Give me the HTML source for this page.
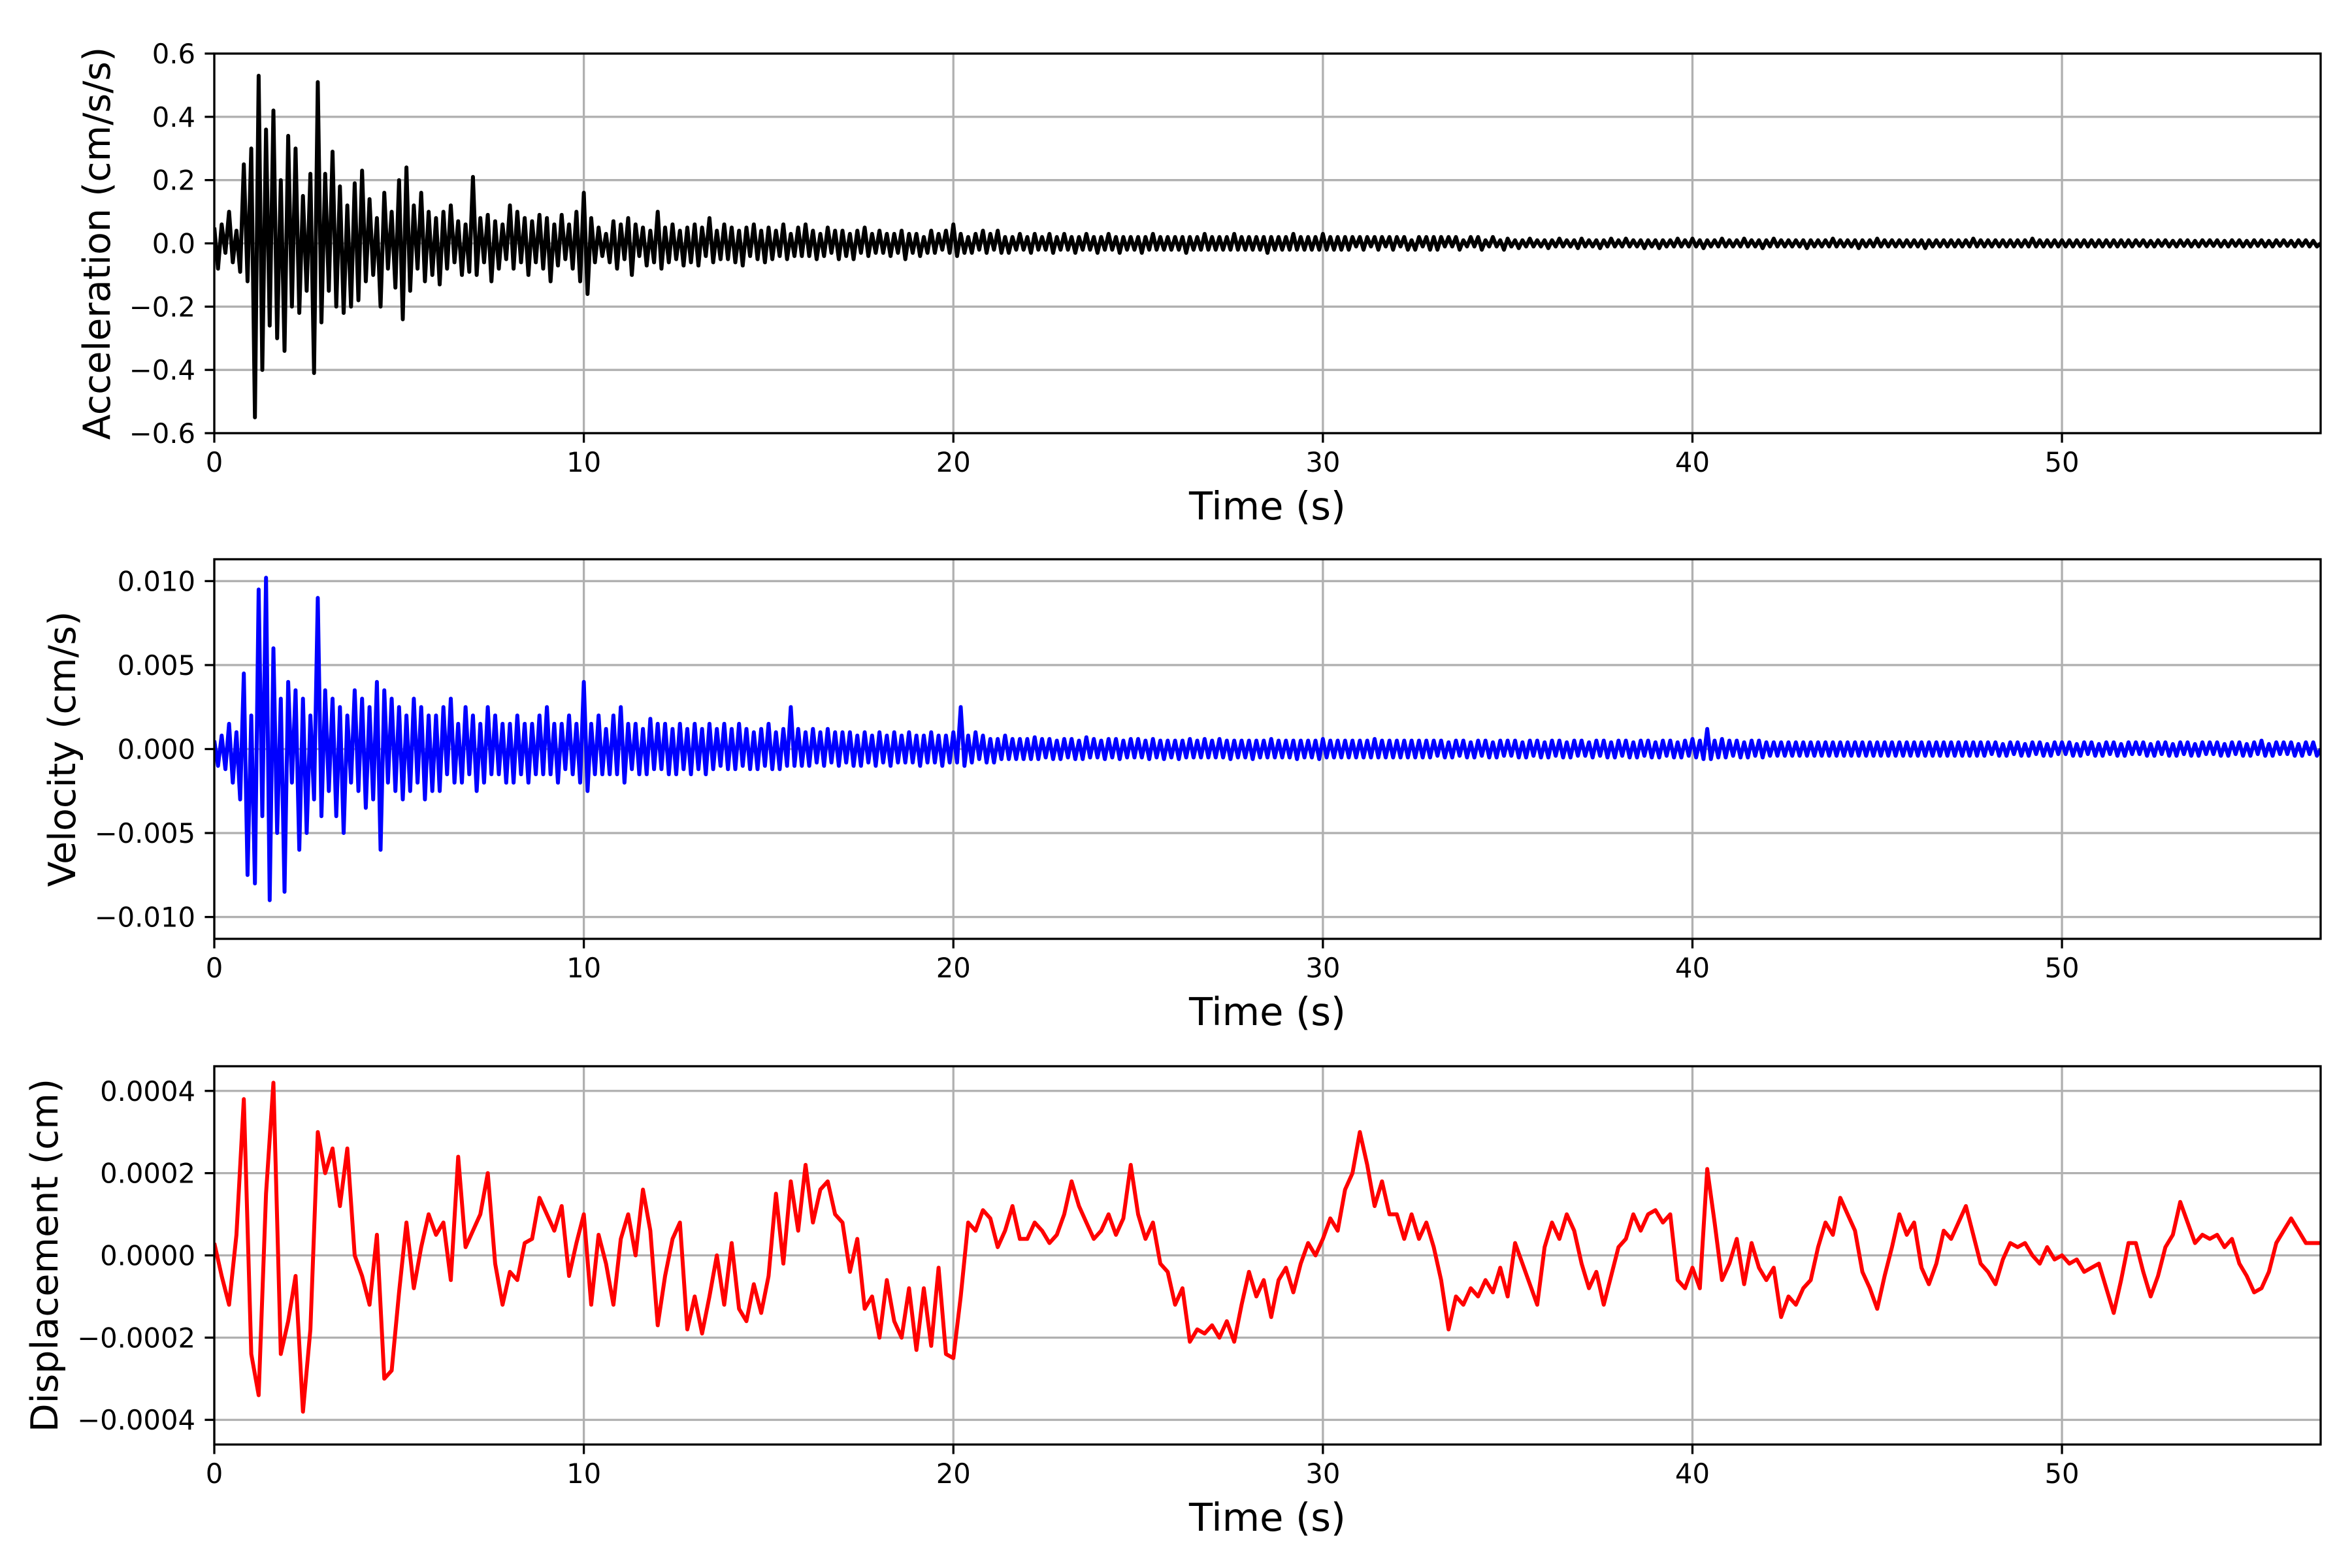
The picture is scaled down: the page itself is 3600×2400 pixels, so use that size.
<!DOCTYPE html>
<html><head><meta charset="utf-8"><style>
html,body{margin:0;padding:0;background:#fff;}
svg{display:block;font-family:"DejaVu Sans","Liberation Sans",sans-serif;}
</style></head><body>
<svg id="fig" width="3600" height="2400" viewBox="0 0 3600 2400" xmlns="http://www.w3.org/2000/svg"></svg>
<script>
// ---- data ----
const accelDt = 0.1;
const accelScale = 0.01;
const accelValues = [
5,-8,6,-3,10,-6,4,-9,25,-12,
30,-55,53,-40,36,-26,42,-30,20,-34,
34,-20,30,-22,15,-15,22,-41,51,-25,
22,-15,29,-20,18,-22,12,-20,19,-18,
23,-12,14,-10,8,-20,16,-8,10,-14,
20,-24,24,-15,12,-8,16,-12,10,-10,
8,-13,10,-8,12,-6,7,-10,6,-9,
21,-10,8,-6,9,-12,7,-8,6,-5,
12,-8,10,-6,8,-10,7,-6,9,-8,
8,-12,6,-7,9,-5,6,-8,10,-12,
16,-16,8,-6,5,-4,3,-6,7,-8,
6,-5,8,-10,6,-4,5,-7,4,-6,
10,-8,5,-6,6,-5,4,-7,5,-6,
6,-7,5,-4,8,-6,4,-5,6,-5,
5,-6,4,-7,5,-4,6,-5,4,-6,
5,-5,4,-4,6,-5,3,-4,5,-4,
6,-4,4,-5,3,-4,5,-3,4,-5,
4,-4,3,-5,4,-3,5,-4,3,-3,
4,-3,3,-4,3,-3,4,-5,3,-3,
3,-4,2,-3,4,-3,3,-2,4,-3,
6,-4,3,-3,2,-3,3,-2,4,-3,
3,-2,4,-3,2,-3,2,-2,3,-2,
2,-3,3,-2,2,-2,3,-3,2,-2,
3,-2,2,-3,2,-2,3,-2,2,-3,
2,-2,3,-2,2,-3,2,-2,2,-2,
2,-3,2,-2,3,-2,2,-2,2,-2,
2,-2,2,-3,2,-2,2,-2,3,-2,
2,-2,2,-2,2,-2,3,-2,2,-2,
2,-2,2,-2,2,-3,2,-2,2,-2,
2,-2,3,-2,2,-2,2,-2,2,-2,
3,-2,2,-2,2,-2,2,-2,2,-1,
2,-2,2,-1,2,-2,2,-1,2,-2,
2,-1,2,-2,1,-2,2,-1,2,-2,
2,-2,2,-1,2,-1,2,-2,1,-1,
2,-1,2,-2,1,-1,2,-1,1,-2,
1.5,-1,1,-1.5,1,-1,1.5,-1,1,-1,
1,-1.5,1,-1,1.5,-1,1,-1,1,-1.5,
1.5,-1,1,-1,1,-1.5,1,-1,1.5,-1,
1,-1,1.5,-1,1,-1,1,-1.5,1,-1,
1,-1.5,1,-1,1,-1,1.5,-1,1,-1,
1.5,-1,1,-1.5,1,-1,1,-1,1.5,-1,
1,-1,1,-1,1.5,-1,1,-1,1,-1.5,
1,-1,1.5,-1,1,-1,1,-1,1,-1,
1,-1.5,1,-1,1,-1,1,-1,1.5,-1,
1,-1,1,-1,1,-1.5,1,-1,1,-1,
1.5,-1,1,-1,1,-1,1,-1,1,-1,
1,-1,1,-1.5,1,-1,1,-1,1,-1,
1,-1,1,-1,1,-1,1.5,-1,1,-1,
1,-1,1,-1,1,-1,1,-1,1,-1,
1,-1,1.5,-1,1,-1,1,-1,1,-1,
1,-1,1,-1,1,-1,1,-1,1,-1,
1,-1,1,-1,1,-1,1,-1,1,-1,
1,-0.8,1,-1,0.8,-1,1,-0.8,1,-1,
0.8,-1,1,-0.8,1,-1,0.8,-1,1,-0.8,
1,-0.8,1,-1,0.8,-1,1,-0.8,1,-1,
0.8,-1,1,-0.8,1,-1,0.8,-1,1,-0.8,
1,-0.8,0.8,-1,1,-0.8,1,-1,0.8,-1,
0
];
const velDt = 0.1;
const velScale = 0.0001;
const velValues = [
5,-10,8,-12,15,-20,10,-30,45,-75,
20,-80,95,-40,102,-90,60,-50,30,-85,
40,-20,35,-60,30,-50,20,-30,90,-40,
35,-25,30,-40,25,-50,20,-20,35,-25,
30,-35,25,-30,40,-60,35,-20,30,-25,
25,-30,20,-25,30,-20,25,-30,20,-25,
20,-25,25,-15,30,-20,15,-20,25,-15,
20,-25,15,-20,25,-15,20,-15,15,-20,
15,-20,20,-15,15,-20,15,-15,20,-15,
25,-15,15,-20,15,-12,20,-15,15,-20,
40,-25,15,-15,20,-15,12,-15,20,-15,
25,-20,15,-12,15,-15,12,-15,18,-12,
15,-12,15,-15,12,-15,15,-12,12,-15,
15,-12,12,-15,15,-12,12,-10,15,-12,
12,-12,15,-10,12,-12,10,-12,12,-10,
15,-12,10,-12,12,-10,25,-10,12,-10,
10,-10,12,-8,10,-10,12,-8,10,-10,
10,-8,10,-10,8,-10,10,-8,8,-10,
10,-8,8,-10,10,-8,8,-8,10,-8,
8,-10,8,-8,10,-8,8,-10,8,-8,
10,-8,25,-10,8,-8,10,-6,8,-8,
6,-8,6,-6,8,-6,6,-6,6,-6,
6,-6,7,-6,6,-5,6,-6,5,-6,
6,-5,6,-6,5,-6,7,-5,6,-5,
5,-6,6,-5,6,-6,5,-5,6,-5,
6,-5,5,-6,6,-5,5,-6,5,-5,
5,-6,5,-5,6,-5,5,-5,6,-5,
5,-5,6,-5,5,-6,5,-5,5,-5,
5,-6,5,-5,5,-5,6,-5,5,-5,
5,-5,5,-6,5,-5,5,-5,5,-6,
6,-5,5,-5,5,-5,5,-5,5,-5,
5,-5,5,-5,6,-5,5,-5,5,-5,
5,-5,5,-5,5,-5,5,-5,5,-5,
5,-4,5,-5,4,-5,5,-4,5,-5,
4,-5,5,-4,5,-5,4,-5,5,-4,
5,-4,5,-5,4,-5,5,-4,5,-5,
4,-5,5,-4,5,-5,4,-5,5,-4,
5,-4,4,-5,5,-4,5,-5,4,-5,
5,-4,5,-5,4,-5,5,-4,5,-5,
4,-5,5,-4,5,-5,4,-5,5,-4,
6,-5,5,-6,12,-6,5,-5,6,-5,
5,-4,5,-5,4,-5,5,-4,5,-5,
4,-4,4,-4,4,-4,4,-4,4,-4,
4,-4,4,-4,4,-4,4,-4,4,-4,
4,-4,4,-4,4,-4,4,-4,4,-4,
4,-4,4,-4,4,-4,4,-4,4,-4,
4,-4,4,-4,4,-4,4,-4,4,-4,
4,-4,4,-4,4,-4,4,-4,4,-4,
4,-3,4,-4,3,-4,4,-3,4,-4,
3,-4,4,-3,4,-4,3,-4,4,-3,
4,-3,4,-4,3,-4,4,-3,4,-4,
3,-4,4,-3,4,-4,3,-4,4,-3,
4,-3,4,-4,3,-4,4,-3,4,-4,
3,-4,4,-3,4,-4,3,-4,4,-3,
4,-3,4,-4,3,-4,4,-3,4,-4,
3,-4,4,-3,5,-4,3,-4,4,-3,
4,-3,4,-4,3,-4,4,-3,4,-4,
0
];
const dispDt = 0.2;
const dispScale = 0.0001;
const dispValues = [
0.3,-0.5,-1.2,0.5,3.8, -2.4,-3.4,1.5,4.2,-2.4, -1.6,-0.5,-3.8,-1.8,3.0,
2.0,2.6,1.2,2.6,0.0, -0.5,-1.2,0.5,-3.0,-2.8, -0.9,0.8,-0.8,0.2,1.0,
0.5,0.8,-0.6,2.4,0.2, 0.6,1.0,2.0,-0.2,-1.2, -0.4,-0.6,0.3,0.4,1.4,
1.0,0.6,1.2,-0.5,0.3, 1.0,-1.2,0.5,-0.2,-1.2, 0.4,1.0,0.0,1.6,0.6,
-1.7,-0.5,0.4,0.8,-1.8, -1.0,-1.9,-1.0,0.0,-1.2, 0.3,-1.3,-1.6,-0.7,-1.4,
-0.5,1.5,-0.2,1.8,0.6, 2.2,0.8,1.6,1.8,1.0, 0.8,-0.4,0.4,-1.3,-1.0,
-2.0,-0.6,-1.6,-2.0,-0.8, -2.3,-0.8,-2.2,-0.3,-2.4, -2.5,-1.0,0.8,0.6,1.1,
0.9,0.2,0.6,1.2,0.4, 0.4,0.8,0.6,0.3,0.5, 1.0,1.8,1.2,0.8,0.4,
0.6,1.0,0.5,0.9,2.2, 1.0,0.4,0.8,-0.2,-0.4, -1.2,-0.8,-2.1,-1.8,-1.9,
-1.7,-2.0,-1.6,-2.1,-1.2, -0.4,-1.0,-0.6,-1.5,-0.6, -0.3,-0.9,-0.2,0.3,0.0,
0.4,0.9,0.6,1.6,2.0, 3.0,2.2,1.2,1.8,1.0, 1.0,0.4,1.0,0.4,0.8,
0.2,-0.6,-1.8,-1.0,-1.2, -0.8,-1.0,-0.6,-0.9,-0.3, -1.0,0.3,-0.2,-0.7,-1.2,
0.2,0.8,0.4,1.0,0.6, -0.2,-0.8,-0.4,-1.2,-0.5, 0.2,0.4,1.0,0.6,1.0,
1.1,0.8,1.0,-0.6,-0.8, -0.3,-0.8,2.1,0.8,-0.6, -0.2,0.4,-0.7,0.3,-0.3,
-0.6,-0.3,-1.5,-1.0,-1.2, -0.8,-0.6,0.2,0.8,0.5, 1.4,1.0,0.6,-0.4,-0.8,
-1.3,-0.5,0.2,1.0,0.5, 0.8,-0.3,-0.7,-0.2,0.6, 0.4,0.8,1.2,0.5,-0.2,
-0.4,-0.7,-0.1,0.3,0.2, 0.3,0.0,-0.2,0.2,-0.1, 0.0,-0.2,-0.1,-0.4,-0.3,
-0.2,-0.8,-1.4,-0.6,0.3, 0.3,-0.4,-1.0,-0.5,0.2, 0.5,1.3,0.8,0.3,0.5,
0.4,0.5,0.2,0.4,-0.2, -0.5,-0.9,-0.8,-0.4,0.3, 0.6,0.9,0.6,0.3,0.3,
0.3
];
const xTicks = [0,10,20,30,40,50];
const accelTicks = [-0.6,-0.4,-0.2,0.0,0.2,0.4,0.6];
const accelTickLabels = ["\u22120.6","\u22120.4","\u22120.2","0.0","0.2","0.4","0.6"];
const velTicks = [-0.01,-0.005,0,0.005,0.01];
const velTickLabels = ["\u22120.010","\u22120.005","0.000","0.005","0.010"];
const dispTicks = [-0.0004,-0.0002,0,0.0002,0.0004];
const dispTickLabels = ["\u22120.0004","\u22120.0002","0.0000","0.0002","0.0004"];

// ---- layout ----
const NS = "http://www.w3.org/2000/svg";
const svg = document.getElementById('fig');
const L = 328, R = 3552, XMAX = 57.0;
function el(tag, attrs, parent){ const e=document.createElementNS(NS,tag); for(const k in attrs) e.setAttribute(k,attrs[k]); (parent||svg).appendChild(e); return e; }
function xs(t){ return L + (t/XMAX)*(R-L); }

function panel(id, top, bottom, ymin, ymax, yTicks, yLabels, ylabel, ylabelX, values, scale, dt, color){
  const g = el('g',{});
  
  
  const ys = v => bottom - (v-ymin)/(ymax-ymin)*(bottom-top);
  const clipId = 'clip-'+id;
  const cp = el('clipPath',{id:clipId}, g);
  el('rect',{x:L,y:top,width:R-L,height:bottom-top}, cp);
  xTicks.forEach(t=>{
    const ln = el('line',{x1:xs(t),x2:xs(t),y1:top,y2:bottom,stroke:'#b0b0b0','stroke-width':3.3}, g);
    
    
  });
  yTicks.forEach(v=>{
    const ln = el('line',{x1:L,x2:R,y1:ys(v),y2:ys(v),stroke:'#b0b0b0','stroke-width':3.3}, g);
    
    
  });
  let d='';
  values.forEach((v,i)=>{ d += (i?'L':'M') + xs(i*dt).toFixed(1) + ',' + ys(v*scale).toFixed(1); });
  const p = el('path',{d:d,fill:'none',stroke:color,'stroke-width':6,'stroke-linejoin':'round','clip-path':'url(#'+clipId+')'}, g);
  
  
  const fr = el('rect',{x:L,y:top,width:R-L,height:bottom-top,fill:'none',stroke:'#000','stroke-width':3.3}, g);
  
  
  xTicks.forEach(t=>{
    el('line',{x1:xs(t),x2:xs(t),y1:bottom,y2:bottom+14.6,stroke:'#000','stroke-width':3.3}, g);
    const tx = el('text',{x:xs(t),y:bottom+59,'font-size':41.7,'text-anchor':'middle',fill:'#000'}, g);
    tx.textContent = String(t);
    
    
  });
  yTicks.forEach((v,i)=>{
    el('line',{x1:L-14.6,x2:L,y1:ys(v),y2:ys(v),stroke:'#000','stroke-width':3.3}, g);
    const tx = el('text',{x:L-29,y:ys(v)+15,'font-size':41.7,'text-anchor':'end',fill:'#000'}, g);
    tx.textContent = yLabels[i];
    
    
  });
  const xl = el('text',{x:(L+R)/2,y:bottom+132,'font-size':59,'text-anchor':'middle',fill:'#000'}, g);
  xl.textContent = 'Time (s)';
  
  
  const yc = (top+bottom)/2;
  const yl = el('text',{x:ylabelX,y:yc,'font-size':57,'text-anchor':'middle',fill:'#000',transform:'rotate(-90 '+ylabelX+' '+yc+')'}, g);
  yl.textContent = ylabel;
  
  
}

panel('acceleration', 82, 663, -0.6, 0.6, accelTicks, accelTickLabels, 'Acceleration (cm/s/s)', 168, accelValues, accelScale, accelDt, '#000000');
panel('velocity', 856, 1437, -0.0113, 0.0113, velTicks, velTickLabels, 'Velocity (cm/s)', 115, velValues, velScale, velDt, '#0000ff');
panel('displacement', 1632, 2211, -0.00046, 0.00046, dispTicks, dispTickLabels, 'Displacement (cm)', 88, dispValues, dispScale, dispDt, '#ff0000');
</script>
</body></html>
